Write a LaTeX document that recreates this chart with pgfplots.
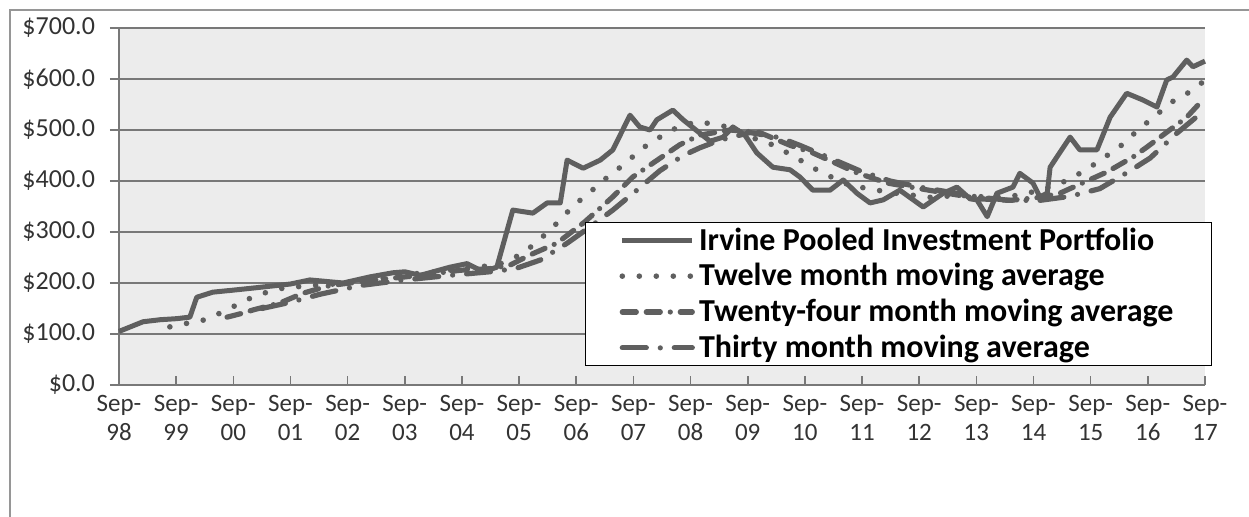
\documentclass[border=0pt]{standalone}
\usepackage{fontspec}
\setmainfont{Carlito}
\usepackage{pgfplots}
\pgfplotsset{compat=1.18}
\definecolor{ln}{RGB}{95,95,95}
\definecolor{plotbg}{RGB}{236,236,236}
\definecolor{gridc}{RGB}{120,120,120}
\definecolor{framec}{RGB}{150,150,150}

\begin{document}
\begin{tikzpicture}
% page = 1249x517 px at 0.5pt per px, axis box origin at px (119,385)
\useasboundingbox (-59.5pt,-66pt) rectangle (565pt,192.5pt);
\draw[framec, line width=0.75pt] (-54.5pt,-70pt) -- (-54.5pt,187.5pt) -- (570pt,187.5pt);
\begin{axis}[
    scale only axis, width=543pt, height=178.5pt,
    xmin=0, xmax=19, ymin=0, ymax=700,
    axis background/.style={fill=plotbg},
    axis x line*=bottom, axis y line*=left,
    axis line style={gridc, line width=0.8pt},
    ymajorgrids, grid style={gridc, line width=0.8pt},
    tick align=outside, major tick length=4.5pt,
    tick style={gridc, line width=0.8pt},
    xtick style={yshift=4.5pt},
    xtick={0,1,...,19},
    xticklabels={{Sep-\\98},{Sep-\\99},{Sep-\\00},{Sep-\\01},{Sep-\\02},{Sep-\\03},{Sep-\\04},
                 {Sep-\\05},{Sep-\\06},{Sep-\\07},{Sep-\\08},{Sep-\\09},{Sep-\\10},{Sep-\\11},
                 {Sep-\\12},{Sep-\\13},{Sep-\\14},{Sep-\\15},{Sep-\\16},{Sep-\\17}},
    xticklabel style={align=center, font=\fontsize{12.5}{14.5}\selectfont, text=black!80,
                      yshift=3pt},
    ytick={0,100,...,700},
    yticklabels={\$0.0,\$100.0,\$200.0,\$300.0,\$400.0,\$500.0,\$600.0,\$700.0},
    yticklabel style={font=\fontsize{13}{15}\selectfont, text=black!80, xshift=-4pt},
    clip=false,
    legend image code/.code={\draw[#1] (0pt,0pt) -- (35pt,0pt);},
    legend style={at={(0.429,0.4566)}, anchor=north west, draw=black, line width=0.6pt,
                  fill=white, font=\bfseries\fontsize{16}{18}\selectfont,
                  cells={anchor=west}, row sep=1.2pt, inner xsep=17pt, inner ysep=0.5pt},
]
% Irvine Pooled Investment Portfolio ($ millions), x = years since Sep-98
\addplot[ln, line width=2.5pt, line join=round] coordinates {
 (0.0,105) (0.42,124) (0.72,128) (1.0,130) (1.24,133) (1.36,172) (1.64,182) (2.0,186)
 (2.34,190) (3.0,198) (3.34,206) (3.92,200) (4.39,212) (4.79,220) (5.0,222) (5.27,215)
 (5.79,231) (6.09,238) (6.37,222) (6.61,231) (6.89,343) (7.24,337) (7.49,357) (7.72,357)
 (7.84,441) (8.12,425) (8.42,441) (8.64,461) (8.94,529) (9.11,506) (9.29,500) (9.41,520)
 (9.69,539) (9.87,520) (10.16,494) (10.34,478) (10.57,486) (10.74,506) (10.95,490)
 (11.16,455) (11.44,427) (11.74,422) (11.91,408) (12.14,382) (12.44,382) (12.67,402)
 (12.91,376) (13.14,357) (13.37,363) (13.66,382) (14.07,349) (14.42,376) (14.66,388)
 (14.89,365) (15.01,363) (15.19,330) (15.36,376) (15.64,388) (15.76,415) (15.99,396)
 (16.11,369) (16.24,376) (16.29,427) (16.64,486) (16.81,461) (17.11,461) (17.34,525)
 (17.63,572) (17.91,559) (18.16,545) (18.33,598) (18.44,604) (18.68,637) (18.79,624)
 (18.96,633) (19.0,635)};
\addplot[ln, line width=2.8pt, line cap=round, dash pattern=on 0pt off 8.5pt] coordinates {
 (0.89,114) (1.19,121) (1.47,127) (1.77,141) (2.06,157) (2.33,172) (2.59,182) (2.87,190)
 (3.34,195) (4.04,200) (4.92,215) (5.79,225) (6.32,232) (6.61,235) (6.84,245) (7.07,259)
 (7.31,280) (7.54,304) (7.75,327) (7.94,351) (8.19,373) (8.42,396) (8.64,416) (8.89,437)
 (9.11,461) (9.38,480) (9.6,496) (9.87,510) (10.16,516) (10.46,510) (10.74,504) (11.04,486)
 (11.34,476) (11.6,461) (11.86,445) (12.12,427) (12.39,412) (12.67,396) (12.96,388)
 (13.26,382) (13.66,375) (14.19,368) (14.71,372) (15.24,368) (15.76,372) (16.2,385)
 (16.52,398) (16.81,415) (17.04,431) (17.3,451) (17.55,471) (17.77,494) (18.0,516)
 (18.25,539) (18.47,559) (18.74,575) (18.96,594)};
\addplot[ln, line width=2.6pt, line cap=round,
         dash pattern=on 7pt off 5pt on 7pt off 5pt on 0pt off 5pt] coordinates {
 (1.89,133) (2.17,141) (2.34,147) (2.82,161) (3.22,180) (3.69,195) (4.39,205) (5.27,215)
 (5.97,225) (6.49,228) (6.84,235) (7.19,255) (7.66,278) (8.15,320) (8.64,369) (8.99,408)
 (9.34,435) (9.81,471) (10.16,490) (10.69,500) (11.21,495) (11.74,470) (12.14,455)
 (12.91,416) (13.44,396) (14.01,385) (14.54,375) (15.06,365) (15.59,362) (16.11,368)
 (16.46,376) (17.29,418) (17.74,447) (17.99,467) (18.68,525) (18.96,559)};
\addplot[ln, line width=2.6pt, line cap=round,
         dash pattern=on 12pt off 7pt on 0pt off 7pt] coordinates {
 (2.5,150) (2.99,162) (3.52,178) (4.22,195) (4.92,205) (5.79,215) (6.49,222) (6.93,228)
 (7.37,245) (7.84,278) (8.24,310) (8.64,343) (9.06,382) (9.46,420) (9.87,450) (10.16,465)
 (10.51,480) (11.04,495) (11.56,485) (11.91,470) (12.44,445) (12.96,420) (13.49,400)
 (14.01,388) (14.54,378) (15.06,368) (15.59,362) (16.11,362) (16.64,370) (17.16,385)
 (17.69,420) (18.04,445) (18.51,494) (18.93,533)};
\legend{Irvine Pooled Investment Portfolio, Twelve month moving average,
        Twenty-four month moving average, Thirty month moving average}
\end{axis}
\end{tikzpicture}
\end{document}
